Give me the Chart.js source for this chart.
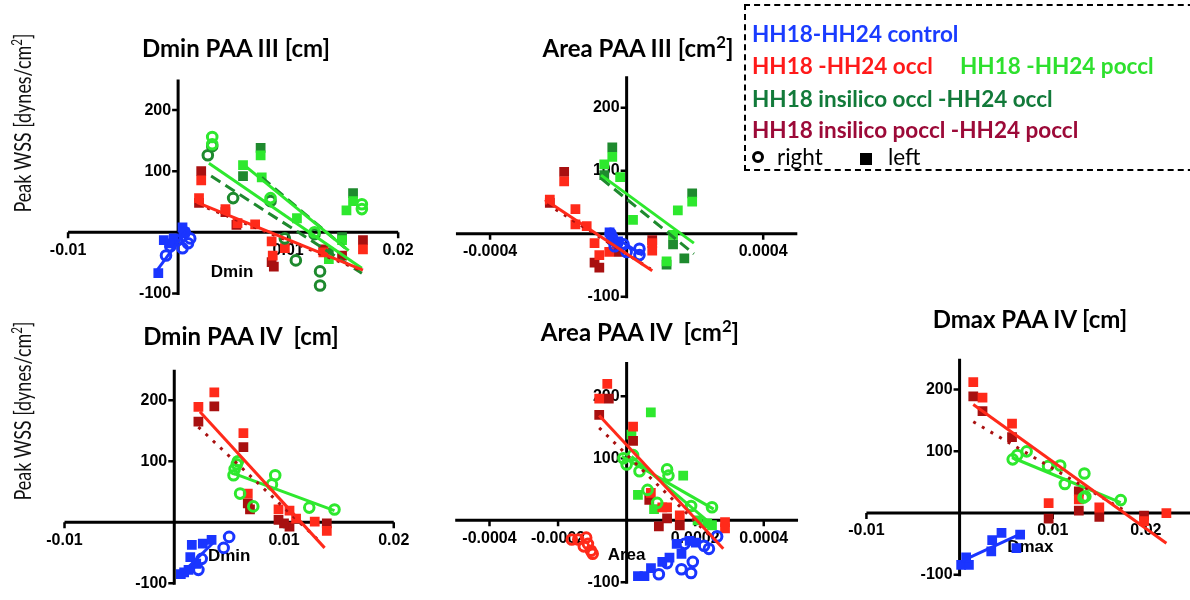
<!DOCTYPE html>
<html>
<head>
<meta charset="utf-8">
<script src="https://cdn.jsdelivr.net/npm/chart.js@4.4.1/dist/chart.umd.min.js"></script>
<style>
  html, body { margin: 0; padding: 0; background: #fff; }
  #wrap { position: relative; width: 1190px; height: 600px; overflow: hidden; font-family: Lato, "Open Sans", sans-serif; }
  canvas { position: absolute; }
  .title { position: absolute; transform: translate(-50%, -50%); font-weight: bold; font-size: 24px; white-space: pre; color: #000; }
  .title sup { font-size: 0.7em; line-height: 0; }
  .ytitle { position: absolute; transform: translate(-50%, -50%) rotate(-90deg) scaleX(0.78); font-size: 23px; white-space: pre; color: #111; }
  .ytitle sup { font-size: 0.65em; line-height: 0; }
  #legend { position: absolute; left: 744px; top: 4px; width: 470px; height: 167px; border: 2px dashed #000; box-sizing: border-box; }
  .lg { position: absolute; transform: translateY(-50%); font-weight: bold; font-size: 22.5px; white-space: pre; }
  .sym { position: absolute; transform: translate(-50%, -50%); box-sizing: border-box; }
</style>
</head>
<body>
<div id="wrap">
  <canvas id="c1" width="400" height="260" style="left:30px;top:60px"></canvas>
  <canvas id="c2" width="380" height="260" style="left:435px;top:60px"></canvas>
  <canvas id="c3" width="400" height="255" style="left:30px;top:345px"></canvas>
  <canvas id="c4" width="380" height="260" style="left:435px;top:340px"></canvas>
  <canvas id="c5" width="350" height="270" style="left:840px;top:330px"></canvas>

  <div class="title" style="left:236px;top:47px">Dmin PAA III [cm]</div>
  <div class="title" style="left:638px;top:47px">Area PAA III [cm<sup>2</sup>]</div>
  <div class="title" style="left:241px;top:335px">Dmin PAA IV  [cm]</div>
  <div class="title" style="left:640px;top:331px">Area PAA IV  [cm<sup>2</sup>]</div>
  <div class="title" style="left:1030px;top:318px">Dmax PAA IV [cm]</div>

  <div class="ytitle" style="left:22px;top:123px">Peak WSS [dynes/cm<sup>2</sup>]</div>
  <div class="ytitle" style="left:22px;top:411px">Peak WSS [dynes/cm<sup>2</sup>]</div>

  <div id="legend"></div>
  <div class="lg" style="left:752px;top:33px;color:#1a3cff">HH18-HH24 control</div>
  <div class="lg" style="left:752px;top:65px;color:#ff1a1a">HH18 -HH24 occl</div>
  <div class="lg" style="left:960px;top:65px;color:#2ee02e">HH18 -HH24 poccl</div>
  <div class="lg" style="left:752px;top:98px;color:#127a3a">HH18 insilico occl -HH24 occl</div>
  <div class="lg" style="left:752px;top:129px;color:#9c0a38">HH18 insilico poccl -HH24 poccl</div>
  <div class="sym" style="left:758px;top:157px;width:12px;height:12px;border:3px solid #000;border-radius:50%"></div>
  <div class="lg" style="left:777px;top:156px;font-weight:normal;color:#000">right</div>
  <div class="sym" style="left:866px;top:159px;width:12px;height:12px;background:#000"></div>
  <div class="lg" style="left:888px;top:156px;font-weight:normal;color:#000">left</div>
</div>
<script>
// ---- colours
const BLUE = '#1a35ff';
const RED = '#ff2a1a';
const DARKRED = '#a81010';
const GREEN = '#2ee82e';
const DARKGREEN = '#1e8a2e';

// ---- tick labels
const dTicksX = [-0.01, 0.01, 0.02];
const aTicksX3 = [-0.0004, 0.0004];
const aTicksX4 = [-0.0004, -0.0002, 0.0002, 0.0004];
const wssTicks = [-100, 100, 200];

// ---- Dmin PAA III  [x cm, y dynes/cm2]
const p1CtrlL = [[-0.0018,-67],[-0.0013,-13],[-0.0004,-10],[0.0004,8],[0.0006,0],[-0.0008,-18]];
const p1CtrlR = [[-0.0011,-38],[-0.0007,-23],[0.0004,-26],[0.0011,-10],[0.0006,0],[-0.0001,-13],[0.0009,-18]];
const p1OcclL = [[0.0019,56],[0.0021,85],[0.0043,38],[0.0054,15],[0.0070,13],[0.0085,-15],[0.0086,-38],[0.0097,-26],[0.0132,-33],[0.0168,-28]];
const p1SiPocclL = [[0.0021,100],[0.0019,48],[0.0043,33],[0.0053,12],[0.0085,-49],[0.0087,-56],[0.0132,-28],[0.0149,-38],[0.0168,-13]];
const p1PocclL = [[0.0059,110],[0.0075,126],[0.0076,90],[0.0108,23],[0.0137,-44],[0.0149,-13],[0.0153,36],[0.0159,51]];
const p1SiOcclL = [[0.0075,138],[0.0059,92],[0.0159,64],[0.0137,-33],[0.0149,-8]];
const p1PocclR = [[0.0031,156],[0.0031,144],[0.0084,56],[0.0124,0],[0.0167,46],[0.0167,38]];
const p1SiOcclR = [[0.0027,126],[0.0031,141],[0.0050,56],[0.0084,51],[0.0097,-10],[0.0107,-46],[0.0129,-64],[0.0129,-87],[0.0124,-3]];
const p1FitCtrl = [[-0.0019,-62],[0.0007,2]];
const p1FitOccl = [[0.0017,49],[0.0168,-62]];
const p1FitSiPoccl = [[0.0018,46],[0.0167,-63]];
const p1FitPocclR = [[0.0028,113],[0.0167,-59]];
const p1FitPocclL = [[0.0060,110],[0.0155,-30]];
const p1FitSiOcclR = [[0.0030,92],[0.0167,-67]];
const p1FitSiOcclL = [[0.0076,90],[0.0152,-26]];

// ---- Area PAA III  [x cm2]
const p2CtrlL = [[-0.000050,2],[-0.000040,-8],[-0.000025,-12]];
const p2CtrlR = [[-0.000047,0],[-0.000042,-10],[-0.000028,-15],[-0.000009,-17],[0,-29],[0.0000375,-24],[0.0000375,-34],[-0.000035,-20]];
const p2OcclL = [[-0.000225,54],[-0.000183,83],[-0.000150,39],[-0.000150,15],[-0.000117,12],[-0.000094,-15],[-0.000080,-34],[-0.000051,-29],[0.000075,-15],[0.000075,-27]];
const p2SiPocclL = [[-0.000183,98],[-0.000225,49],[-0.000094,-46],[-0.000080,-54],[0.000075,-10],[-0.000023,-29]];
const p2PocclL = [[-0.0000655,110],[-0.000042,122],[-0.000019,90],[0.0000187,22],[0.000117,-44],[0.000136,-2],[0.000150,37],[0.000192,51]];
const p2SiOcclL = [[-0.000042,137],[-0.0000655,93],[0.000192,64],[0.000136,-17],[0.000169,-39],[0.000117,-49]];
const p2FitCtrl = [[-0.000056,2],[0.000047,-34]];
const p2FitOccl = [[-0.000239,54],[0.000075,-59]];
const p2FitSiPoccl = [[-0.000233,47],[0.000070,-56]];
const p2FitPoccl = [[-0.000075,93],[0.000197,-15]];
const p2FitSiOccl = [[-0.000075,88],[0.000197,-32]];

// ---- Dmin PAA IV
const p3CtrlL = [[0.0006,-85],[0.0013,-78],[0.00146,-57],[0.0016,-37],[0.0026,-35],[0.0034,-29],[0.002,-68],[0.0009,-82]];
const p3CtrlR = [[0.0050,-24],[0.0045,-42],[0.0025,-60],[0.0022,-78]];
const p3OcclL = [[0.0022,189],[0.00365,213],[0.0063,146],[0.0067,47],[0.0095,21],[0.0105,19],[0.0111,6],[0.0128,1],[0.0139,-14]];
const p3SiPocclL = [[0.0022,165],[0.00365,190],[0.0063,123],[0.0067,31],[0.0069,21],[0.0095,4],[0.0105,-7],[0.0139,-2],[0.0100,-2]];
const p3PocclR = [[0.0058,100],[0.0055,87],[0.0054,77],[0.0060,47],[0.0072,26],[0.0092,77],[0.0089,62],[0.0123,24],[0.0146,21],[0.0057,95]];
const p3FitCtrl = [[0.00044,-88],[0.00365,-32]];
const p3FitOccl = [[0.00234,181],[0.0137,-42]];
const p3FitSiPoccl = [[0.0022,156],[0.0130,-27]];
const p3FitPoccl = [[0.0054,80],[0.0146,19]];

// ---- Area PAA IV
const p4CtrlL = [[0.000033,-90],[0.000052,-90],[0.000071,-77],[0.000104,-67],[0.000146,-38],[0.000184,-33],[0.000202,-36],[0.00016,-54],[0.000125,-60]];
const p4CtrlR = [[0.000094,-87],[0.000118,-69],[0.00016,-79],[0.000188,-85],[0.000193,-67],[0.000226,-41],[0.00024,-46],[0.000264,-26],[0.000169,-38]];
const p4OcclL = [[-0.00008,196],[-0.0000565,220],[0.0000188,151],[0.0000706,44],[0.000104,21],[0.000118,21],[0.000155,8],[0.000287,-3],[0.000287,-13]];
const p4OcclR = [[-0.00016,-31],[-0.000141,-31],[-0.000118,-28],[-0.000113,-38],[-0.000104,-49],[-0.000099,-54],[-0.000125,-42]];
const p4SiPocclL = [[-0.00008,170],[-0.000052,196],[0.0000188,128],[0.000066,33],[0.000094,-10],[0.000118,3],[0.000155,-8]];
const p4PocclL = [[0.0000706,174],[0.0000141,138],[0.000165,72],[0.000033,41],[0.00008,18],[0.000207,0],[0.000235,-5],[0.000249,-8]];
const p4PocclR = [[-0.0000094,100],[0,90],[0.0000188,105],[0.0000376,79],[0.000118,82],[0.000122,72],[0.000061,49],[0.000089,28],[0.000188,23],[0.000249,21]];
const p4FitOccl = [[-0.00008,169],[0.000282,-46]];
const p4FitSiPoccl = [[-0.00008,149],[0.000254,-31]];
const p4FitPocclR = [[-0.0000141,103],[0.000254,18]];
const p4FitPocclL = [[0.0000141,103],[0.00024,-3]];

// ---- Dmax PAA IV
const p5CtrlL = [[0.00017,-84],[0.001,-84],[0.0007,-72],[0.0034,-62],[0.0035,-44],[0.0045,-32],[0.0065,-35],[0.0061,-57]];
const p5OcclL = [[0.00147,212],[0.00246,187],[0.00563,145],[0.00956,16],[0.0128,22],[0.0150,9],[0.0198,-13],[0.0222,0]];
const p5SiPocclL = [[0.00147,189],[0.00246,165],[0.00563,123],[0.00956,-9],[0.0128,4],[0.0128,35],[0.0150,-6],[0.0198,-4]];
const p5PocclR = [[0.0057,87],[0.0062,94],[0.0072,100],[0.0095,76],[0.0108,77],[0.0113,47],[0.0134,64],[0.0135,27],[0.0173,21],[0.0133,25]];
const p5FitCtrl = [[0.00034,-77],[0.0065,-34]];
const p5FitOccl = [[0.00147,176],[0.0222,-49]];
const p5FitSiPoccl = [[0.00147,148],[0.0177,4]];
const p5FitPoccl = [[0.00563,90],[0.0173,17]];

const pts = arr => arr.map(([x, y]) => ({ x, y }));

const squares = (arr, color) => ({
  data: pts(arr), pointStyle: 'rect', pointRadius: 6.9, pointHoverRadius: 6.9,
  backgroundColor: color, borderColor: color, borderWidth: 0
});
const rings = (arr, color) => ({
  data: pts(arr), pointStyle: 'circle', pointRadius: 4.8, pointHoverRadius: 4.8,
  backgroundColor: 'rgba(0,0,0,0)', borderColor: color, borderWidth: 3
});
const fit = (arr, color, dash) => ({
  data: pts(arr), showLine: true, pointRadius: 0, borderColor: color,
  borderWidth: 3, borderDash: dash || []
});

// draws the axes crossing at zero, Prism style
const crossAxes = {
  id: 'crossAxes',
  beforeDatasetsDraw(chart, args, o) {
    const { ctx } = chart;
    const x = chart.scales.x, y = chart.scales.y;
    const x0 = x.getPixelForValue(0), y0 = y.getPixelForValue(0);
    ctx.save();
    ctx.strokeStyle = '#000';
    ctx.lineWidth = 3;
    ctx.beginPath();
    ctx.moveTo(x.getPixelForValue(o.xRange[0]), y0);
    ctx.lineTo(x.getPixelForValue(o.xRange[1]), y0);
    ctx.moveTo(x0, y.getPixelForValue(o.yRange[0]) + 1.5);
    ctx.lineTo(x0, y.getPixelForValue(o.yRange[1]));
    ctx.stroke();
    ctx.lineWidth = 2.5;
    ctx.beginPath();
    o.xTicks.forEach(v => {
      const px = x.getPixelForValue(v);
      ctx.moveTo(px, y0); ctx.lineTo(px, y0 + 6);
    });
    o.yTicks.forEach(v => {
      const py = y.getPixelForValue(v);
      ctx.moveTo(x0, py); ctx.lineTo(x0 - 6, py);
    });
    ctx.stroke();
    ctx.fillStyle = '#000';
    ctx.font = 'bold 16px "Liberation Sans", Arial, sans-serif';
    ctx.textAlign = 'center';
    ctx.textBaseline = 'middle';
    o.xTicks.forEach(v => ctx.fillText(String(v), x.getPixelForValue(v), y0 + 18));
    ctx.textAlign = 'right';
    o.yTicks.forEach(v => ctx.fillText(String(v), x0 - 7, y.getPixelForValue(v)));
    if (o.label) {
      ctx.font = 'bold 17px "Liberation Sans", Arial, sans-serif';
      ctx.textAlign = 'center';
      ctx.fillText(o.label, x.getPixelForValue(o.labelAt[0]), y.getPixelForValue(o.labelAt[1]));
    }
    ctx.restore();
  }
};

// frame: page pixel of the origin and px per unit; the canvas style gives its page position
function panel(id, frame, datasets, axes) {
  const el = document.getElementById(id);
  const left = parseFloat(el.style.left), top = parseFloat(el.style.top);
  const w = el.width, h = el.height;
  return new Chart(el, {
    type: 'scatter',
    data: { datasets },
    options: {
      responsive: false,
      animation: false,
      devicePixelRatio: 1,
      layout: { padding: 0 },
      scales: {
        x: { type: 'linear', display: false, min: (left - frame.ox) / frame.sx, max: (left + w - frame.ox) / frame.sx },
        y: { type: 'linear', display: false, min: (frame.oy - top - h) / frame.sy, max: (frame.oy - top) / frame.sy }
      },
      plugins: { legend: { display: false }, tooltip: { enabled: false }, crossAxes: axes },
      elements: { line: { tension: 0 } }
    },
    plugins: [crossAxes]
  });
}

const DOT = [3, 7];
const DASH = [11, 6];

panel('c1', { ox: 176, oy: 235, sx: 11450, sy: 0.65 }, [
  fit(p1FitCtrl, BLUE),
  fit(p1FitOccl, RED),
  fit(p1FitSiPoccl, DARKRED, DOT),
  fit(p1FitPocclR, GREEN),
  fit(p1FitPocclL, GREEN),
  fit(p1FitSiOcclR, DARKGREEN, DASH),
  fit(p1FitSiOcclL, DARKGREEN, DASH),
  squares(p1CtrlL, BLUE),
  rings(p1CtrlR, BLUE),
  rings(p1PocclR, GREEN),
  rings(p1SiOcclR, DARKGREEN),
  squares(p1OcclL, RED),
  squares(p1SiPocclL, DARKRED),
  squares(p1PocclL, GREEN),
  squares(p1SiOcclL, DARKGREEN)
], { xRange: [-0.01, 0.02], yRange: [-100, 250], xTicks: dTicksX, yTicks: wssTicks, label: 'Dmin', labelAt: [0.0049, -65] });

panel('c2', { ox: 626.7, oy: 236.5, sx: 356000, sy: 0.67 }, [
  fit(p2FitCtrl, BLUE),
  fit(p2FitOccl, RED),
  fit(p2FitSiPoccl, DARKRED, DOT),
  fit(p2FitPoccl, GREEN),
  fit(p2FitSiOccl, DARKGREEN, DASH),
  squares(p2CtrlL, BLUE),
  rings(p2CtrlR, BLUE),
  squares(p2OcclL, RED),
  squares(p2SiPocclL, DARKRED),
  squares(p2PocclL, GREEN),
  squares(p2SiOcclL, DARKGREEN)
], { xRange: [-0.0005, 0.0005], yRange: [-100, 250], xTicks: aTicksX3, yTicks: wssTicks });

panel('c3', { ox: 172, oy: 525.5, sx: 11420, sy: 0.65 }, [
  fit(p3FitCtrl, BLUE),
  fit(p3FitOccl, RED),
  fit(p3FitSiPoccl, DARKRED, DOT),
  fit(p3FitPoccl, GREEN),
  squares(p3CtrlL, BLUE),
  rings(p3CtrlR, BLUE),
  rings(p3PocclR, GREEN),
  squares(p3OcclL, RED),
  squares(p3SiPocclL, DARKRED)
], { xRange: [-0.01, 0.02], yRange: [-100, 250], xTicks: dTicksX, yTicks: wssTicks, label: 'Dmin', labelAt: [0.0050, -56] });

panel('c4', { ox: 626.7, oy: 523.5, sx: 357500, sy: 0.66 }, [
  fit(p4FitOccl, RED),
  fit(p4FitSiPoccl, DARKRED, DOT),
  fit(p4FitPocclR, GREEN),
  fit(p4FitPocclL, GREEN),
  squares(p4CtrlL, BLUE),
  rings(p4CtrlR, BLUE),
  rings(p4PocclR, GREEN),
  rings(p4OcclR, RED),
  squares(p4OcclL, RED),
  squares(p4SiPocclL, DARKRED),
  squares(p4PocclL, GREEN)
], { xRange: [-0.0005, 0.0005], yRange: [-100, 255], xTicks: aTicksX4, yTicks: wssTicks, label: 'Area', labelAt: [0, -57] });

panel('c5', { ox: 957, oy: 516, sx: 9750, sy: 0.655 }, [
  fit(p5FitCtrl, BLUE),
  fit(p5FitOccl, RED),
  fit(p5FitSiPoccl, DARKRED, DOT),
  fit(p5FitPoccl, GREEN),
  squares(p5CtrlL, BLUE),
  rings(p5PocclR, GREEN),
  squares(p5OcclL, RED),
  squares(p5SiPocclL, DARKRED)
], { xRange: [-0.01, 0.025], yRange: [-100, 250], xTicks: dTicksX, yTicks: wssTicks, label: 'Dmax', labelAt: [0.0076, -55] });
</script>
</body>
</html>
